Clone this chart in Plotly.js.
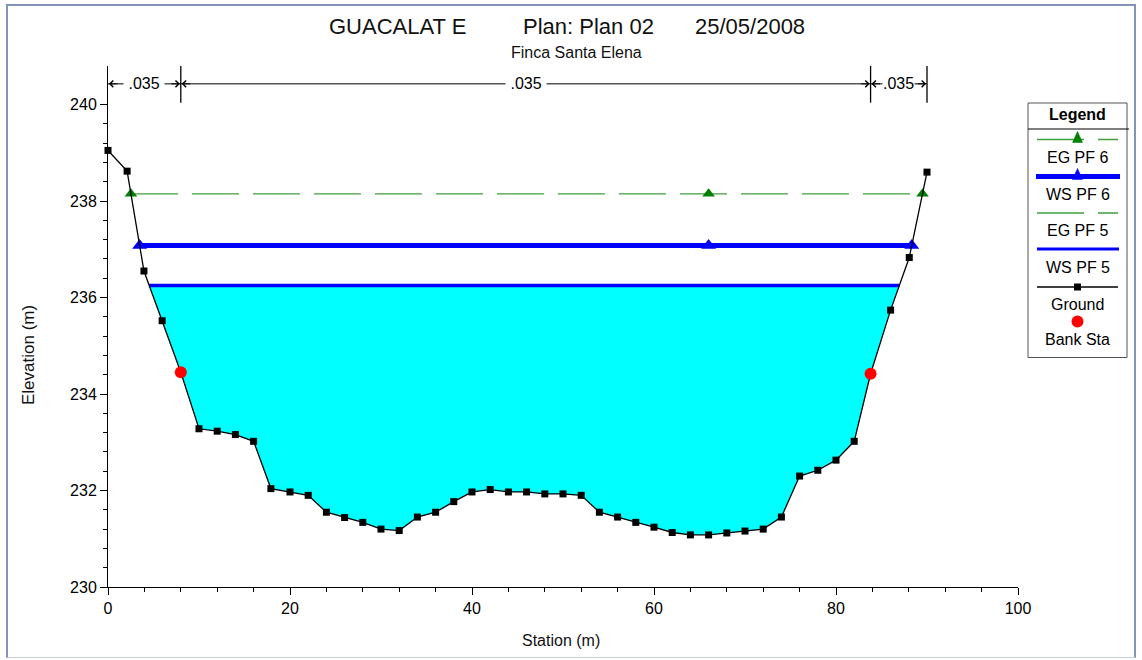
<!DOCTYPE html>
<html>
<head>
<meta charset="utf-8">
<script src="https://cdn.plot.ly/plotly-3.0.1.min.js"></script>
<style>
  html, body { margin: 0; padding: 0; background: #ffffff; }
  #frame { position: absolute; left: 6px; top: 4px; width: 1126px; height: 651px;
           border-left: 2px solid #8494b8; border-top: 2px solid #8494b8;
           border-right: 2px solid #8494b8; border-bottom: 1px solid #c9cfe0; }
  #chart { position: absolute; left: 0; top: 0; width: 1142px; height: 660px; }
</style>
</head>
<body>
<div id="frame"></div>
<div id="chart"></div>
<script>
// ---------------- DATA ----------------
const groundStation = [0, 2.1, 3.95, 5.95, 8, 10, 12, 14, 16, 17.9, 20, 22, 24, 26, 28, 30, 32, 34, 36, 38,
  40, 42, 44, 46, 48, 50, 52, 54, 56, 58, 60, 62, 64, 66, 68, 70, 72, 74, 76, 78, 80, 82, 83.8, 86, 88.05, 90];
const groundElev = [239.05, 238.62, 236.55, 235.52, 234.45, 233.28, 233.23, 233.16, 233.02, 232.04, 231.97, 231.9,
  231.55, 231.44, 231.34, 231.2, 231.17, 231.45, 231.55, 231.77, 231.97, 232.02, 231.97, 231.97, 231.93, 231.93,
  231.9, 231.55, 231.45, 231.34, 231.24, 231.13, 231.08, 231.08, 231.12, 231.16, 231.2, 231.45, 232.3, 232.42,
  232.63, 233.02, 234.42, 235.74, 236.83, 238.6];
const bankStation = [8, 83.8];
const bankElev = [234.45, 234.42];
const profileNames = ['EG PF 6', 'WS PF 6', 'EG PF 5', 'WS PF 5'];
const egPF6 = 238.15;
const wsPF6 = 237.08;
const egPF5 = 237.08;
const wsPF5 = 236.25;
const profileMarkStation = 66;
const nBreaks = [0, 8, 83.8, 90];
const nValues = ['.035', '.035', '.035'];
const xTickVals = [0, 20, 40, 60, 80, 100];
const yTickVals = [230, 232, 234, 236, 238, 240];
const titleParts = ['GUACALAT E', 'Plan: Plan 02', '25/05/2008'];
const subTitle = 'Finca Santa Elena';
const legendLabels = ['EG PF 6', 'WS PF 6', 'EG PF 5', 'WS PF 5', 'Ground', 'Bank Sta'];

// ---------------- helpers ----------------
function crossings(level) {
  let sL = null, sR = null, iL = 0, iR = groundStation.length - 1;
  for (let i = 0; i < groundStation.length - 1; i++) {
    const a = groundElev[i], b = groundElev[i + 1];
    if (a >= level && b <= level) {
      sL = groundStation[i] + (a - level) / (a - b) * (groundStation[i + 1] - groundStation[i]);
      iL = i + 1; break;
    }
  }
  for (let j = groundStation.length - 1; j > 0; j--) {
    const a = groundElev[j - 1], b = groundElev[j];
    if (a <= level && b >= level) {
      sR = groundStation[j - 1] + (level - a) / (b - a) * (groundStation[j] - groundStation[j - 1]);
      iR = j - 1; break;
    }
  }
  return { sL, sR, iL, iR };
}

const FONT = 'Liberation Sans, Arial, sans-serif';
const L = 108, T = 66, W = 1024, H = 521;
const px = x => (x - L) / W;
const py = y => (T + H - y) / H;

// water fill polygon for WS PF 5
const c5 = crossings(wsPF5);
const fillX = [c5.sL], fillY = [wsPF5];
for (let i = c5.iL; i <= c5.iR; i++) { fillX.push(groundStation[i]); fillY.push(groundElev[i]); }
fillX.push(c5.sR); fillY.push(wsPF5);

const c6 = crossings(wsPF6);
const ce6 = crossings(egPF6);
const ce5 = crossings(egPF5);

const GREEN_LINE = '#3f9f3f';
const GREEN_MARK = '#008000';
const BLUE = '#0000ff';

const traces = [
  { x: fillX, y: fillY, mode: 'lines', fill: 'toself', fillcolor: '#00ffff',
    line: { width: 0, color: '#00ffff' }, hoverinfo: 'skip', showlegend: false },
  { name: profileNames[2], x: [ce5.sL, ce5.sR], y: [egPF5, egPF5], mode: 'lines',
    line: { color: GREEN_LINE, width: 1.4, dash: '47px,14px' }, showlegend: false },
  { name: profileNames[0], x: [ce6.sL, profileMarkStation, ce6.sR], y: [egPF6, egPF6, egPF6], mode: 'lines+markers',
    line: { color: GREEN_LINE, width: 1.4, dash: '47px,14px' },
    marker: { symbol: 'triangle-up', size: 11, color: GREEN_MARK }, cliponaxis: false, showlegend: false },
  { name: profileNames[1], x: [c6.sL, profileMarkStation, c6.sR], y: [wsPF6, wsPF6, wsPF6], mode: 'lines+markers',
    line: { color: BLUE, width: 5 },
    marker: { symbol: 'triangle-up', size: 13, color: BLUE }, cliponaxis: false, showlegend: false },
  { name: profileNames[3], x: [c5.sL, c5.sR], y: [wsPF5, wsPF5], mode: 'lines',
    line: { color: BLUE, width: 3.5 }, showlegend: false },
  { name: 'Ground', x: groundStation, y: groundElev, mode: 'lines+markers',
    line: { color: '#000000', width: 1.3 },
    marker: { symbol: 'square', size: 7, color: '#000000' }, cliponaxis: false, showlegend: false },
  { name: 'Bank Sta', x: bankStation, y: bankElev, mode: 'markers',
    marker: { symbol: 'circle', size: 12, color: '#ff0000' }, cliponaxis: false, showlegend: false }
];

// ---------------- n-value bars ----------------
const nY = 240.43, barLo = 240.04, barHi = 240.8;
const shapes = [];
const annotations = [];
nBreaks.slice(1).forEach(b => {
  shapes.push({ type: 'line', xref: 'x', yref: 'y', x0: b, x1: b, y0: barLo, y1: barHi,
    line: { color: '#000', width: 1.3 } });
});
shapes.push({ type: 'line', xref: 'x', yref: 'y', x0: nBreaks[0], x1: nBreaks[nBreaks.length - 1], y0: nY, y1: nY,
  line: { color: '#000', width: 1 } });
for (let k = 0; k < nValues.length; k++) {
  const a = nBreaks[k], b = nBreaks[k + 1];
  const narrow = (b - a) < 7;
  annotations.push({ xref: 'x', yref: 'y', x: (a + b) / 2, y: nY, text: narrow ? nValues[k] : ' ' + nValues[k] + ' ',
    showarrow: false, bgcolor: '#ffffff', borderpad: 0, xanchor: 'center', yanchor: 'middle',
    font: { family: FONT, size: 16, color: '#000' } });
  annotations.push({ xref: 'x', yref: 'y', axref: 'x', ayref: 'y', x: a + 0.1, y: nY, ax: a + 1.2, ay: nY, text: '',
    showarrow: true, arrowhead: 4, arrowsize: 1.3, arrowwidth: 1, arrowcolor: '#000' });
  annotations.push({ xref: 'x', yref: 'y', axref: 'x', ayref: 'y', x: b - 0.1, y: nY, ax: b - 1.2, ay: nY, text: '',
    showarrow: true, arrowhead: 4, arrowsize: 1.3, arrowwidth: 1, arrowcolor: '#000' });
}

// ---------------- titles ----------------
const titleX = [397, 588, 750];
titleParts.forEach((t, i) => {
  annotations.push({ xref: 'paper', yref: 'paper', x: px(titleX[i]), y: py(26), text: t, showarrow: false,
    xanchor: 'center', yanchor: 'middle', font: { family: FONT, size: 22, color: '#111' } });
});
annotations.push({ xref: 'paper', yref: 'paper', x: px(576), y: py(53), text: subTitle, showarrow: false,
  xanchor: 'center', yanchor: 'middle', font: { family: FONT, size: 16, color: '#111' } });
annotations.push({ xref: 'paper', yref: 'paper', x: px(561), y: py(640), text: 'Station (m)', showarrow: false,
  xanchor: 'center', yanchor: 'middle', font: { family: FONT, size: 16, color: '#111' } });
annotations.push({ xref: 'paper', yref: 'paper', x: px(28), y: py(355), text: 'Elevation (m)', showarrow: false,
  textangle: -90, xanchor: 'center', yanchor: 'middle', font: { family: FONT, size: 17, color: '#111' } });

// ---------------- custom legend ----------------
const LX0 = 1028, LX1 = 1127, LY0 = 103, LY1 = 357.5, LC = 1077.5;
shapes.push({ type: 'rect', xref: 'paper', yref: 'paper', x0: px(LX0), x1: px(LX1), y0: py(LY0), y1: py(LY1),
  line: { color: '#555', width: 1 }, fillcolor: 'rgba(0,0,0,0)' });
shapes.push({ type: 'line', xref: 'paper', yref: 'paper', x0: px(LX0), x1: px(LX1 + 2), y0: py(129), y1: py(129),
  line: { color: '#000', width: 1 } });
annotations.push({ xref: 'paper', yref: 'paper', x: px(LC), y: py(115), text: '<b>Legend</b>', showarrow: false,
  xanchor: 'center', yanchor: 'middle', font: { family: FONT, size: 16, color: '#000' } });
const labelY = [157.5, 194.5, 230.5, 267.5, 304, 340];
legendLabels.forEach((t, i) => {
  annotations.push({ xref: 'paper', yref: 'paper', x: px(LC), y: py(labelY[i]), text: t, showarrow: false,
    xanchor: 'center', yanchor: 'middle', font: { family: FONT, size: 16, color: '#000' } });
});
function hline(y, x0, x1, color, width, dash) {
  shapes.push({ type: 'line', xref: 'paper', yref: 'paper', x0: px(x0), x1: px(x1), y0: py(y), y1: py(y),
    line: { color, width, dash: dash || 'solid' } });
}
function tri(cx, cy, color) {
  const p = [[cx - 5, cy + 3], [cx + 5, cy + 3], [cx, cy - 8]];
  shapes.push({ type: 'path', xref: 'paper', yref: 'paper', fillcolor: color, line: { color, width: 0.5 },
    path: 'M' + p.map(q => px(q[0]) + ',' + py(q[1])).join(' L') + ' Z' });
}
hline(139.5, 1037, 1118, GREEN_LINE, 1.4, '47px,14px'); tri(LC, 139.5, GREEN_MARK);
hline(176.5, 1036, 1120, BLUE, 5); tri(LC, 176.5, BLUE);
hline(213, 1037, 1118, GREEN_LINE, 1.4, '47px,14px');
hline(249, 1037, 1119, BLUE, 3);
hline(287, 1037, 1118, '#000', 1.3);
shapes.push({ type: 'rect', xref: 'paper', yref: 'paper', x0: px(LC - 3.5), x1: px(LC + 3.5), y0: py(283.5), y1: py(290.5),
  fillcolor: '#000', line: { width: 0 } });
shapes.push({ type: 'circle', xref: 'paper', yref: 'paper', x0: px(LC - 6), x1: px(LC + 6), y0: py(315.5), y1: py(327.5),
  fillcolor: '#ff0000', line: { width: 0 } });

// ---------------- minor ticks ----------------
const yMinor = [];
for (let k = 0; k <= 25; k++) { const v = +(230 + 0.4 * k).toFixed(2); if (v <= 240) yMinor.push(v); }

const layout = {
  width: 1142, height: 660,
  margin: { l: L, r: 1142 - L - W, t: T, b: 660 - T - H },
  paper_bgcolor: 'rgba(0,0,0,0)', plot_bgcolor: 'rgba(0,0,0,0)',
  showlegend: false,
  xaxis: { range: [0, 100], domain: [0, 910 / W], showline: true, linecolor: '#000', linewidth: 1,
    showgrid: false, zeroline: false, ticks: 'outside', ticklen: 7, tickcolor: '#000',
    tickmode: 'array', tickvals: xTickVals, ticktext: xTickVals.map(String),
    tickfont: { family: FONT, size: 16, color: '#000' },
    minor: { dtick: 4, tick0: 0, ticks: 'outside', ticklen: 4, tickcolor: '#000', showgrid: false } },
  yaxis: { range: [230, 240.8], showline: true, linecolor: '#000', linewidth: 1,
    showgrid: false, zeroline: false, ticks: 'outside', ticklen: 7, tickcolor: '#000',
    tickmode: 'array', tickvals: yTickVals, ticktext: yTickVals.map(String),
    tickfont: { family: FONT, size: 16, color: '#000' },
    minor: { tickmode: 'array', tickvals: yMinor, ticks: 'outside', ticklen: 4, tickcolor: '#000', showgrid: false } },
  shapes, annotations
};

Plotly.newPlot('chart', traces, layout, { displayModeBar: false, staticPlot: true });
</script>
</body>
</html>
